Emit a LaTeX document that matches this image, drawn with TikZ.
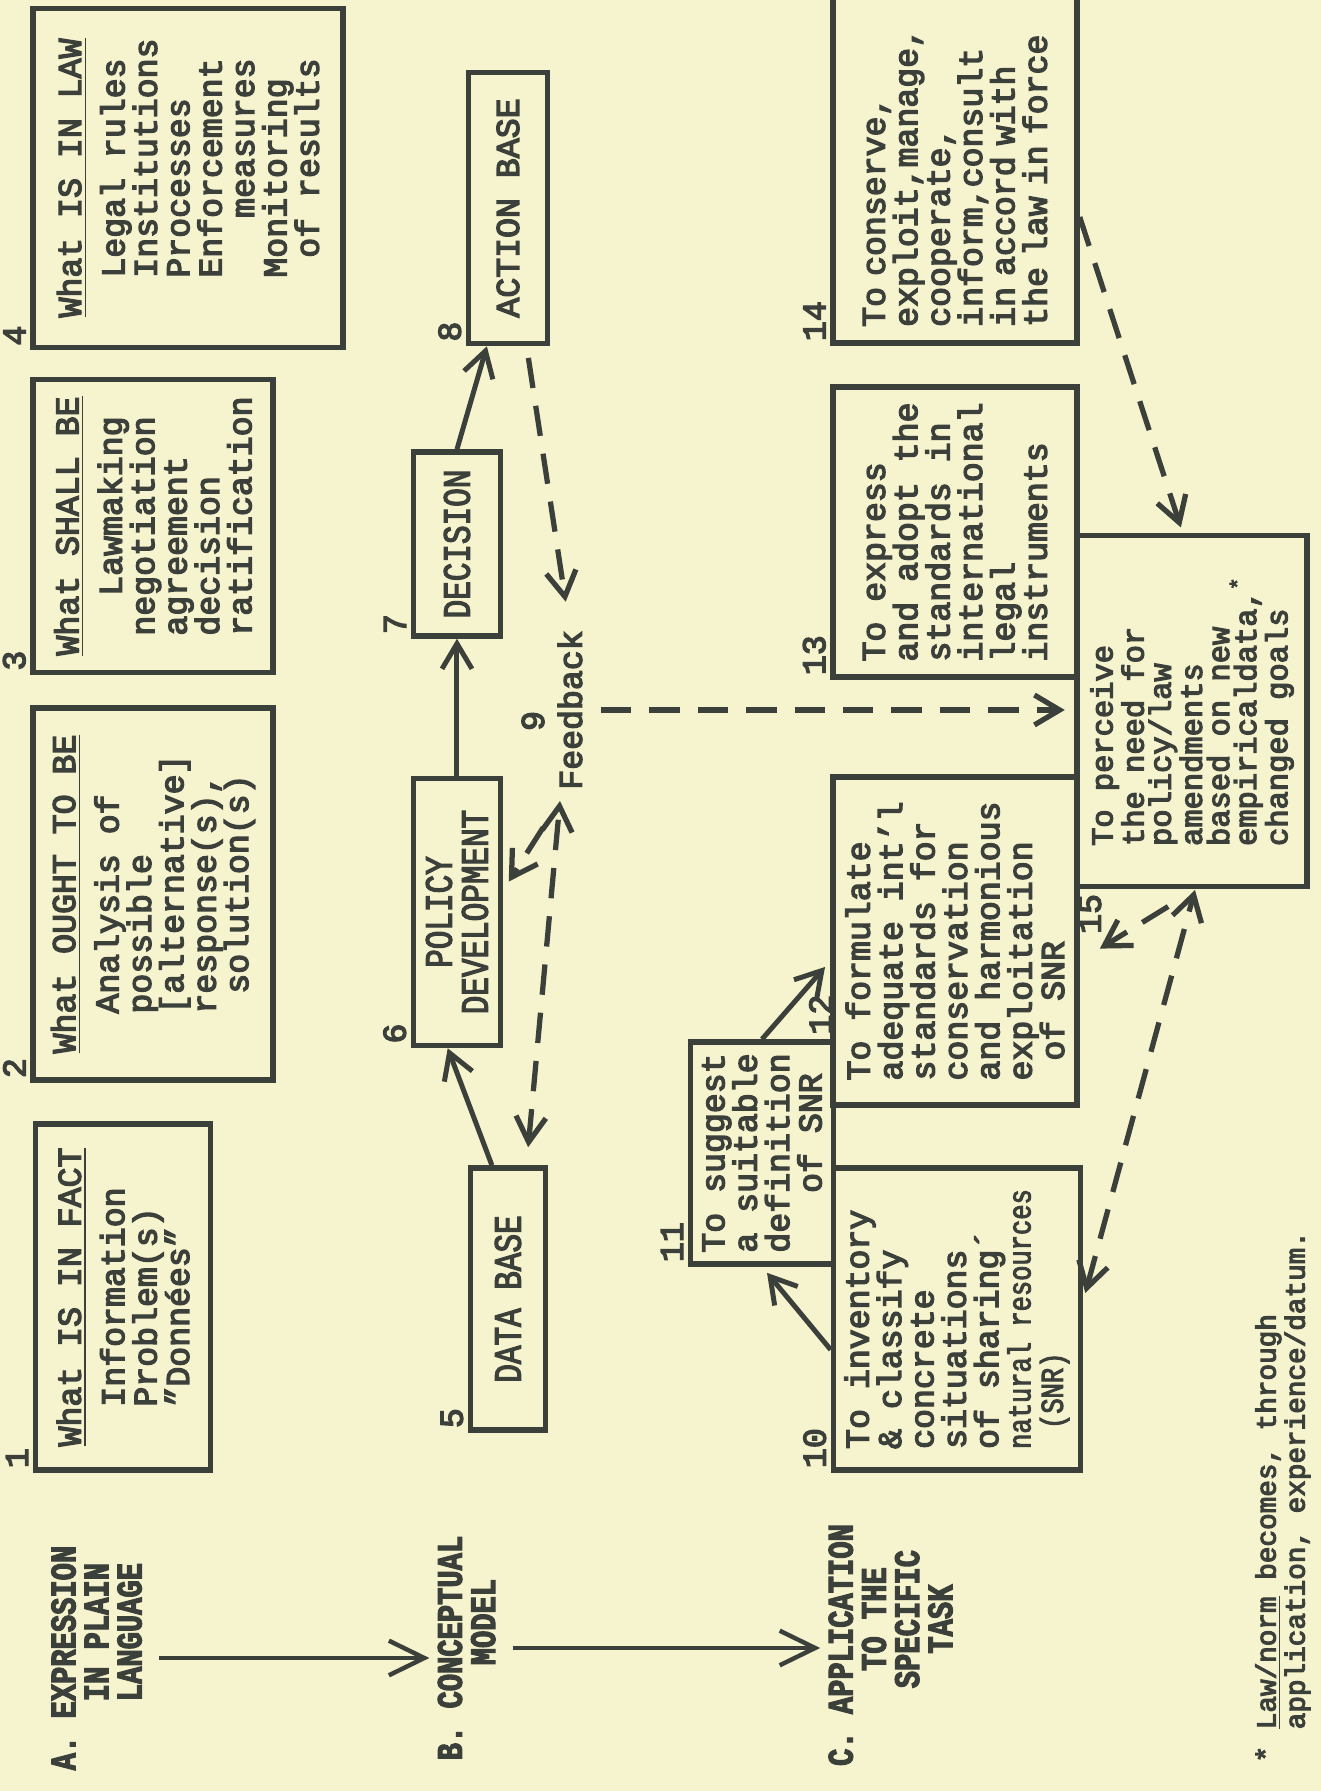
\documentclass[tikz,border=0pt]{standalone}
\usepackage{fontspec}
\setmainfont{Liberation Mono}[FakeBold=4]
\newfontfamily\condfont[FakeStretch=0.8, FakeBold=3]{Liberation Mono}
\usetikzlibrary{positioning, arrows.meta, calc}
\definecolor{paper}{RGB}{246,243,207}
\definecolor{ink}{RGB}{60,64,58}

\begin{document}
\begin{tikzpicture}[x=0.127mm, y=0.127mm, rotate=90, transform shape,
  >={Straight Barb[length=3.2mm, width=3.8mm]},
  box/.style={draw=ink, line width=2pt, text=ink, align=left, inner sep=0pt,
    font=\fontsize{12pt}{11.7pt}\selectfont},
  boxsize/.style 2 args={minimum width=#1*0.127mm, minimum height=#2*0.127mm},
  capsbox/.style={box, align=center, font=\condfont\fontsize{14pt}{13pt}\selectfont},
  num/.style={text=ink, inner sep=1.5pt, font=\fontsize{12pt}{12pt}\selectfont},
  heading/.style={text=ink, inner sep=0pt, font=\condfont\bfseries\fontsize{13pt}{11pt}\selectfont},
  link/.style={draw=ink, line width=1.8pt, ->},
  feed/.style={draw=ink, line width=1.9pt, dash pattern=on 11pt off 6.5pt, ->},
  stage/.style={draw=ink, line width=1.6pt, -{Straight Barb[length=4.5mm, width=4.4mm]}}]

\fill[paper] (0,0) rectangle (1791,1321);
\useasboundingbox (0,0) rectangle (1791,1321);

% row A: plain language
\node[box, boxsize={346}{175}] (b1) at (494,1198) {\underline{What IS IN FACT}\\[4pt]
  \hspace*{1.2em}Information\\\hspace*{1.2em}Problem(s)\\\hspace*{1.2em}"Données"};
\node[box, boxsize={372}{240}] (b2) at (897,1168) {\underline{What OUGHT TO BE}\\[4pt]
  \hspace*{1.2em}Analysis of\\\hspace*{1.2em}possible\\\hspace*{1.2em}[alternative]\\
  \hspace*{1.2em}response(s),\\\hspace*{1.8em}solution(s)};
\node[box, boxsize={293}{240}] (b3) at (1265,1168) {\underline{What SHALL BE}\\[4pt]
  \hspace*{1.8em}Lawmaking\\\hspace*{0.6em}negotiation\\\hspace*{0.6em}agreement\\
  \hspace*{0.6em}decision\\\hspace*{0.6em}ratification};
\node[box, boxsize={339}{310}] (b4) at (1613,1133) {\underline{What IS IN LAW}\\[4pt]
  \hspace*{1.2em}Legal rules\\\hspace*{1.2em}Institutions\\\hspace*{1.2em}Processes\\
  \hspace*{1.2em}Enforcement\\\hspace*{3em}measures\\\hspace*{1.2em}Monitoring\\
  \hspace*{1.8em}of results};

% row B: conceptual model
\node[capsbox, boxsize={262}{75}] (b5) at (492,813) {DATA BASE};
\node[capsbox, boxsize={267}{87}] (b6) at (879,864) {POLICY\\DEVELOPMENT};
\node[capsbox, boxsize={184}{87}] (b7) at (1247,864) {DECISION};
\node[box, boxsize={271}{79}] (b8) at (1583,813) {ACTION BASE};
\node[text=ink, inner sep=0pt, font=\fontsize{12pt}{12pt}\selectfont] (fb) at (1081,751) {Feedback};
\coordinate (j1) at (990,761);

% row C: the specific task
\node[box, boxsize={302}{247}] (b10) at (472,364) {To inventory\\\& classify\\concrete\\situations\\of sharing´\\
  {\condfont\fontsize{11.5pt}{11.7pt}\selectfont natural resources}\\
  \hspace*{0.6em}{\condfont\fontsize{11.5pt}{11.7pt}\selectfont (SNR)}};
\node[box, boxsize={222}{143}] (b11) at (638,559) {To suggest\\a suitable\\definition\\\hspace*{1.8em}of SNR};
\node[box, boxsize={328}{244}] (b12) at (850,366) {To formulate\\adequate int'l\\standards for\\conservation\\
  and harmonious\\exploitation\\\hspace*{0.6em}of SNR};
\node[box, boxsize={290}{244}] (b13) at (1259,366) {To express\\and adopt the\\standards in\\international\\
  legal\\instruments};
\node[box, boxsize={352}{244}, text width=40.6mm] (b14) at (1624,366) {To conserve,\\exploit,manage,\\cooperate,\\
  inform,consult\\in accord with\\the law in force};
\node[box, boxsize={351}{230}, font=\fontsize{11pt}{9.8pt}\selectfont] (b15) at (1080,129) {To perceive\\
  the need for\\policy/law\\amendments\\based on new\\empiricaldata,\textsuperscript{*}\\changed goals};
\coordinate (j2) at (901,126);

% numbers
\node[num, anchor=south west] (n1) at (b1.north west) {1};
\node[num, anchor=south west] (n2) at (b2.north west) {2};
\node[num, anchor=south west] (n3) at (b3.north west) {3};
\node[num, anchor=south west] (n4) at (b4.north west) {4};
\node[num, anchor=south west] (n5) at (b5.north west) {5};
\node[num, anchor=south west] (n6) at (b6.north west) {6};
\node[num, anchor=south west] (n7) at (b7.north west) {7};
\node[num, anchor=south west] (n8) at (b8.north west) {8};
\node[num] (n9) at (1070,788) {9};
\node[num, anchor=south west] (n10) at (b10.north west) {10};
\node[num, anchor=south west] (n11) at (b11.north west) {11};
\node[num, anchor=south west] (n12) at (b11.south east) {12};
\node[num, anchor=south west] (n13) at (b13.north west) {13};
\node[num, anchor=south west] (n14) at (b14.north west) {14};
\node[num, anchor=north east] (n15) at (b15.north west) {15};

% stages
\node[heading] (la) at (133,1220) {\begin{tabular}{@{}l@{\ }c@{}}A.&EXPRESSION\\&IN PLAIN\\&LANGUAGE\end{tabular}};
\node[heading] (lb) at (143,850) {\begin{tabular}{@{}l@{\ }c@{}}B.&CONCEPTUAL\\&MODEL\end{tabular}};
\node[heading] (lc) at (146,426) {\begin{tabular}{@{}l@{\ }c@{}}C.&APPLICATION\\&TO THE\\&SPECIFIC\\&TASK\end{tabular}};
\draw[stage, shorten <=1mm, shorten >=1mm] (la.south) -- (la.south |- lb.north);
\draw[stage, shorten <=1mm, shorten >=1mm] (lb.south) -- (lb.south |- lc.north);

\node[text=ink, align=left, anchor=north west, inner sep=0pt, font=\fontsize{10pt}{10.5pt}\selectfont] (note)
  at (28,66) {*\ \underline{Law/norm} becomes, through\\\hspace*{1.2em}application, experience/datum.};

% solid links
\draw[link] ($(b5.south east)!0.7!(b5.north east)$) -- ($(b6.south west)!0.6!(b6.north west)$);
\draw[link] (b6) -- (b7);
\draw[link] (b7.east) -- ($(b8.south west)!0.75!(b8.north west)$);
\draw[link, shorten >=1mm] ($(b10.north west)!0.4!(b10.north east)$) -- ($(b11.south west)!0.5!(b11.north west)$);
\draw[link, shorten >=1mm] ($(b11.south east)!0.5!(b11.north east)$) -- ($(b12.north west)!0.44!(b12.north east)$);

% feedback loops
\draw[feed, shorten <=1.5mm, shorten >=3.6mm] ($(b8.south west)!0.28!(b8.north west)$) -- (fb.east);
\draw[feed, shorten <=2.3mm, shorten >=1.2mm] (fb.south) -- (fb.south |- b15.north);
\draw[feed, <->, shorten <=2.3mm] ($(b5.south east)!0.27!(b5.north east)$) -- (j1);
\draw[feed, shorten <=4mm, shorten >=1.3mm] (j1) -- ($(b6.south west)!0.58!(b6.south east)$);
\draw[feed, shorten >=0.7mm] ($(b14.south west)!0.36!(b14.south east)$) -- ($(b15.south east)!0.54!(b15.north east)$);
\draw[feed, <->, shorten <=1mm] ($(b10.south west)!0.56!(b10.south east)$) -- (j2);
\draw[feed, shorten <=4mm, shorten >=3mm] (j2) -- ($(b12.south west)!0.44!(b12.south east)$);
\end{tikzpicture}
\end{document}
